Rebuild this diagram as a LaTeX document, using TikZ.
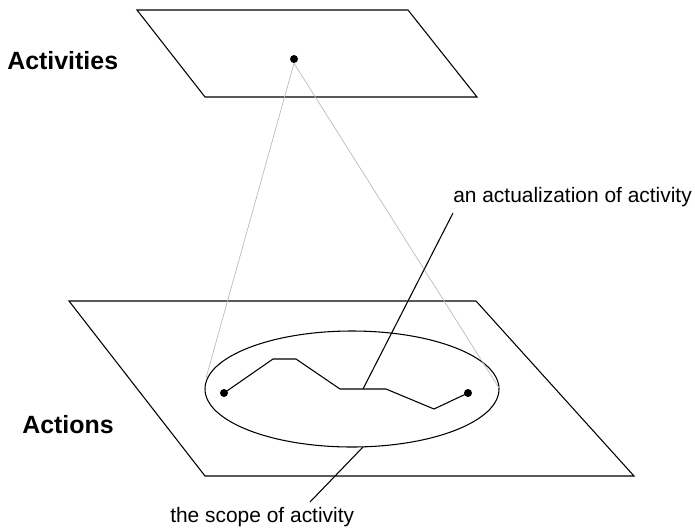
\documentclass[tikz,border=0pt]{standalone}
\usepackage{fontspec}
\setmainfont{Liberation Sans}
\begin{document}
\begin{tikzpicture}[x=0.75pt,y=-0.75pt,
  plane/.style={draw=black,line width=0.8pt,line join=miter},
  thinline/.style={draw=black,line width=0.8pt},
  greyline/.style={draw=black!28,line width=0.5pt},
  dot/.style={circle,fill=black,inner sep=0pt,minimum size=6pt},
  biglabel/.style={font=\fontsize{18.7}{22}\selectfont\bfseries,inner sep=0pt,anchor=base west},
  smalllabel/.style={font=\fontsize{15.7}{19}\selectfont,inner sep=0pt,anchor=base west}]
\useasboundingbox (0,0) rectangle (695,529);
% planes
\draw[plane] (137,10) -- (408,10) -- (477,97) -- (205,97) -- cycle;
\draw[plane] (69,301) -- (476,301) -- (634,476) -- (205,476) -- cycle;
% ellipse
\draw[thinline] (352,389) ellipse [x radius=147, y radius=58];
% coordinates
\coordinate (gl) at (206,378);
\coordinate (gr) at (499,388);
\coordinate (p1) at (273,359);
\coordinate (p2) at (296,359);
\coordinate (p3) at (340,389);
\coordinate (p4) at (363,389);
\coordinate (p5) at (386,389);
\coordinate (p6) at (434,409);
\coordinate (eb) at (363,447);
\coordinate (ae) at (453,213);
\coordinate (se) at (310,502);
% dots
\node[dot] (top) at (294,59) {};
\node[dot] (ld) at (224,393) {};
\node[dot] (rd) at (468,393) {};
% grey projection lines
\draw[greyline] (top.south) -- (gl);
\draw[greyline] (top.south) -- (gr);
% path
\draw[thinline,line join=miter] (ld.center) -- (p1) -- (p2) -- (p3) -- (p4) -- (p5) -- (p6) -- (rd.center);
% labels
\node[biglabel] (acts) at (7,69) {Activities};
\node[biglabel] (actions) at (22,433) {Actions};
\node[smalllabel] (actu) at (453,202) {an actualization of activity};
\node[smalllabel] (scope) at (170,522) {the scope of activity};
% pointer lines
\draw[thinline] (p4) -- (ae);
\draw[thinline] (eb) -- (se);
\end{tikzpicture}
\end{document}
